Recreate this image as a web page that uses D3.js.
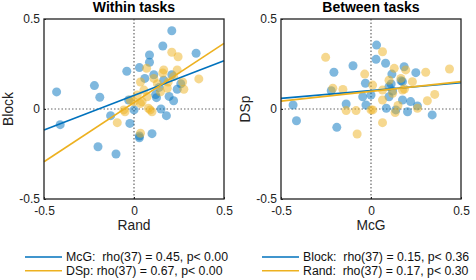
<!DOCTYPE html>
<html>
<head>
<meta charset="utf-8">
<script src="https://cdn.jsdelivr.net/npm/d3@7"></script>
<style>
  body { margin: 0; background: #fff; }
  svg { font-family: "Liberation Sans", Arial, sans-serif; }
</style>
</head>
<body>
<div id="chart"></div>
<script>
// axis ticks shared by both panels
var ticks = [-0.5, 0, 0.5];
var tickLabels = ["-0.5", "0", "0.5"];

// Within tasks: x = Rand, y = Block
var withinMcG = [
  [0.21,0.435],[0.16,0.35],[0.086,0.30],[0.345,0.31],[0.086,0.26],[0.03,0.23],
  [-0.04,0.21],[-0.22,0.13],[-0.43,0.095],[-0.19,0.065],[0.125,0.063],[0.195,0.07],
  [0.22,0.046],[-0.03,0.05],[0.15,0.0],[0.18,-0.037],[-0.13,-0.037],[-0.41,-0.087],
  [-0.023,-0.08],[0.10,-0.137],[0.03,-0.15],[0.0,-0.005],[-0.2,-0.21],[-0.1,-0.25],
  [0.03,-0.16],[0.11,0.19],[0.165,0.16],[0.26,0.14],[0.21,0.19],[0.14,0.12],
  [0.06,0.17],[0.24,0.11],[0.12,0.08]
];
var withinDSp = [
  [0.21,0.315],[0.245,0.29],[0.07,0.226],[0.165,0.217],[0.24,0.217],[0.36,0.167],
  [0.277,0.11],[0.036,0.15],[0.13,0.14],[0.055,0.105],[0.018,0.078],[0.073,0.068],
  [0.0,0.04],[0.036,0.03],[0.08,0.004],[0.1,-0.015],[-0.057,-0.005],[-0.093,-0.076],
  [0.036,-0.135],[0.16,0.2],[0.22,0.18],[0.27,0.15],[0.185,0.115],[0.147,0.096],
  [-0.02,0.05],[0.09,-0.005],[0.045,0.04],[-0.05,-0.015],[0.11,0.17],[0.19,0.15]
];
// Between tasks: x = McG, y = DSp
var betweenBlock = [
  [0.031,0.355],[0.028,0.276],[0.081,0.254],[-0.1,0.24],[-0.206,0.204],[0.249,0.202],
  [0.116,0.194],[0.184,0.235],[-0.031,0.143],[-0.221,0.102],[0.1,0.124],[0.175,0.152],
  [-0.433,0.022],[-0.414,-0.065],[-0.19,-0.102],[-0.138,0.028],[-0.028,0.022],[-0.046,0.068],
  [0.0,0.078],[0.1,0.068],[0.175,0.05],[0.22,0.041],[0.258,0.017],[0.203,-0.015],
  [0.34,-0.033],[0.138,-0.005],[0.085,0.004],[0.112,0.139],[0.167,0.157],[0.12,0.1]
];
var betweenRand = [
  [-0.252,0.287],[0.064,0.318],[-0.035,0.194],[0.436,0.222],[0.304,0.204],[0.129,0.226],
  [0.193,0.217],[0.23,0.152],[0.166,0.17],[-0.212,0.115],[-0.156,0.109],[0.009,0.133],
  [0.064,0.105],[0.354,0.081],[0.313,0.046],[0.258,0.004],[0.064,0.05],[0.12,0.087],
  [0.175,0.105],[-0.138,-0.009],[-0.083,-0.009],[0.134,-0.02],[0.064,-0.076],[-0.077,-0.139],
  [0.0,-0.005],[0.01,-0.005],[0.186,0.111],[0.15,0.02],[0.1,0.16]
];
// fitted lines: [y at x=-0.5, y at x=0.5]
var withinFitMcG = [-0.117, 0.268];
var withinFitDSp = [-0.293, 0.365];
var betweenFitBlock = [0.059, 0.146];
var betweenFitRand = [0.044, 0.152];

var legendWithin = ["McG:  rho(37) = 0.45, p< 0.00", "DSp: rho(37) = 0.67, p< 0.00"];
var legendBetween = ["Block:  rho(37) = 0.15, p< 0.36", "Rand:  rho(37) = 0.17, p< 0.30"];

var blue = "#0072BD", yellow = "#EDB120";

var svg = d3.select("#chart").append("svg")
    .attr("width", 476)
    .attr("height", 280);

var panels = [
  {left: 44, title: "Within tasks", xlab: "Rand", ylab: "Block",
   series: [withinMcG, withinDSp], fits: [withinFitMcG, withinFitDSp], legend: legendWithin},
  {left: 281, title: "Between tasks", xlab: "McG", ylab: "DSp",
   series: [betweenBlock, betweenRand], fits: [betweenFitBlock, betweenFitRand], legend: legendBetween}
];
var colors = [blue, yellow];
var plotW = 180, plotH = 180, plotTop = 19;

panels.forEach(function(p) {
  var g = svg.append("g").attr("transform", "translate(" + p.left + "," + plotTop + ")");
  var x = d3.scaleLinear().domain([-0.5, 0.5]).range([0, plotW]);
  var y = d3.scaleLinear().domain([-0.5, 0.5]).range([plotH, 0]);

  // zero reference lines
  g.append("line").attr("x1", x(0)).attr("x2", x(0)).attr("y1", 0).attr("y2", plotH)
    .attr("stroke", "#666").attr("stroke-width", 1.2).attr("stroke-dasharray", "1.5,2");
  g.append("line").attr("x1", 0).attr("x2", plotW).attr("y1", y(0)).attr("y2", y(0))
    .attr("stroke", "#666").attr("stroke-width", 1.2).attr("stroke-dasharray", "1.5,2");

  // dots
  p.series.forEach(function(s, i) {
    g.append("g").selectAll("circle")
      .data(s)
      .enter().append("circle")
        .attr("cx", function(d) { return x(d[0]); })
        .attr("cy", function(d) { return y(d[1]); })
        .attr("r", 4.5)
        .attr("fill", colors[i])
        .attr("fill-opacity", 0.5);
  });

  // fit lines
  p.fits.forEach(function(f, i) {
    g.append("line")
      .attr("x1", x(-0.5)).attr("y1", y(f[0]))
      .attr("x2", x(0.5)).attr("y2", y(f[1]))
      .attr("stroke", colors[i]).attr("stroke-width", 1.6);
  });

  // axes
  var xAxis = g.append("g").attr("transform", "translate(0," + plotH + ")")
    .call(d3.axisBottom(x).tickValues(ticks).tickSize(-2).tickPadding(6)
      .tickFormat(function(d, i) { return tickLabels[i]; }));
  var yAxis = g.append("g")
    .call(d3.axisLeft(y).tickValues(ticks).tickSize(-2).tickPadding(4)
      .tickFormat(function(d, i) { return tickLabels[i]; }));
  [xAxis, yAxis].forEach(function(a) {
    a.select(".domain").remove();
    a.selectAll("text").attr("font-size", 12).attr("fill", "#222").attr("font-family", null);
    a.selectAll("line").attr("stroke", "#222");
  });
  xAxis.selectAll("text").attr("dy", "0.8em");
  yAxis.selectAll("text").attr("dy", "0.26em");

  g.append("rect").attr("width", plotW).attr("height", plotH)
    .attr("fill", "none").attr("stroke", "#222").attr("stroke-width", 1.3);

  g.append("text").attr("x", plotW / 2).attr("y", -7).attr("text-anchor", "middle")
    .attr("font-size", 14).attr("font-weight", "bold").text(p.title);
  g.append("text").attr("x", plotW / 2).attr("y", plotH + 31).attr("text-anchor", "middle")
    .attr("font-size", 13.8).attr("fill", "#222").text(p.xlab);
  g.append("text").attr("transform", "translate(-31," + (plotH / 2) + ") rotate(-90)")
    .attr("text-anchor", "middle").attr("font-size", 13.8).attr("fill", "#222").text(p.ylab);

  // legend
  var lg = svg.append("g").attr("transform", "translate(" + (p.left - 19) + ",257)");
  p.legend.forEach(function(t, i) {
    lg.append("line").attr("x1", 0).attr("x2", 37).attr("y1", i * 13.8).attr("y2", i * 13.8)
      .attr("stroke", colors[i]).attr("stroke-width", 1.6);
    lg.append("text").attr("x", 41).attr("y", i * 13.8).attr("dy", "0.35em")
      .attr("font-size", 12.3).attr("fill", "#111").attr("xml:space", "preserve")
      .style("white-space", "pre").text(t);
  });
});
</script>
</body>
</html>
